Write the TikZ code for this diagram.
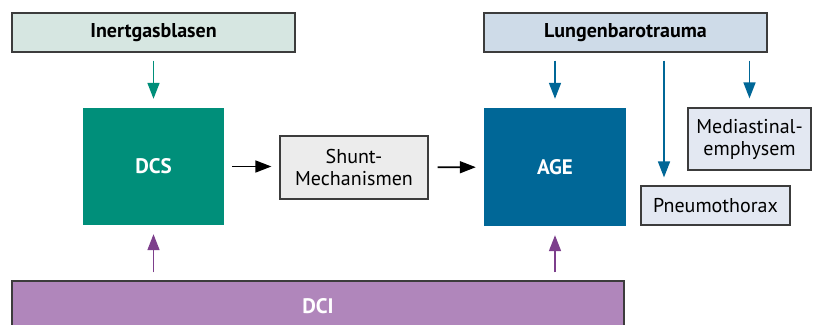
\documentclass[tikz,border=0pt]{standalone}
\usepackage{xcolor}
\usepackage{fontspec}
\setmainfont{PT Sans}
\usetikzlibrary{arrows.meta}
\definecolor{dcsgreen}{RGB}{0,143,122}
\definecolor{ageblue}{RGB}{0,103,151}
\definecolor{dcipurple}{RGB}{176,134,187}
\definecolor{arrowpurple}{RGB}{125,63,140}
\definecolor{inertfill}{RGB}{214,230,225}
\definecolor{lungfill}{RGB}{206,219,232}
\definecolor{lightbluefill}{RGB}{227,232,242}
\definecolor{shuntfill}{RGB}{236,236,236}
\definecolor{boxline}{RGB}{60,60,60}

\begin{document}
\begin{tikzpicture}[x=1pt, y=-1pt,
        label box/.style = {draw = boxline, line width = 1.2pt, inner sep = 0pt, font = \fontsize{20}{22}\selectfont, align = center},
        big box/.style = {inner sep = 0pt, text = white, font = \fontsize{21}{24}\selectfont\bfseries},
        flow/.style = {line width = 1.6pt, -{Triangle[width = 12pt, length = 16pt]}}]
        \clip (0, 0) rectangle (813, 324);
        \fill[white] (0, 0) rectangle (813, 324);

        \node(Inertgasblasen)[label box, fill = inertfill, minimum width = 283, minimum height = 39, font = \fontsize{20}{22}\selectfont\bfseries] at (153.5, 32.5) {Inertgasblasen};
        \node(Lungenbarotrauma)[label box, fill = lungfill, minimum width = 283, minimum height = 39, font = \fontsize{20}{22}\selectfont\bfseries] at (625.5, 32.5) {Lungenbarotrauma};

        \node(DCS)[big box, fill = dcsgreen, minimum width = 141, minimum height = 117] at (153.5, 166.5) {DCS};
        \node(Shunt)[label box, fill = shuntfill, minimum width = 148, minimum height = 63] at (354, 167.5) {Shunt-\\Mechanismen};
        \node(AGE)[big box, fill = ageblue, minimum width = 142, minimum height = 118] at (555, 167) {AGE};

        \node(Mediastinal)[label box, fill = lightbluefill, minimum width = 123, minimum height = 62] at (749.5, 139) {Mediastinal-\\emphysem};
        \node(Pneumothorax)[label box, fill = lightbluefill, minimum width = 149, minimum height = 39] at (715.5, 205.5) {Pneumothorax};

        \node(DCI)[big box, draw = boxline, line width = 1.2pt, fill = dcipurple, minimum width = 612, minimum height = 50] at (318, 306) {DCI};

        \coordinate(pneumo x) at (664, 0);

        \draw [flow, dcsgreen, shorten < = 8pt, shorten > = 9pt] (Inertgasblasen) -- (DCS);
        \draw [flow, ageblue, shorten < = 8pt, shorten > = 9pt] (Lungenbarotrauma.south -| AGE) -- (AGE);
        \draw [flow, ageblue, shorten < = 8pt, shorten > = 8pt] (Lungenbarotrauma.south -| pneumo x) -- (pneumo x |- Pneumothorax.north);
        \draw [flow, ageblue, shorten < = 8pt, shorten > = 9pt] (Lungenbarotrauma.south -| Mediastinal) -- (Mediastinal);

        \draw [flow, black, shorten < = 8pt, shorten > = 8pt] (DCS) -- (DCS -| Shunt.west);
        \draw [flow, black, shorten < = 9pt, shorten > = 8pt] (Shunt) -- (AGE);

        \draw [flow, arrowpurple, shorten < = 8pt, shorten > = 9pt] (DCI.north -| DCS) -- (DCS);
        \draw [flow, arrowpurple, shorten < = 8pt, shorten > = 9pt] (DCI.north -| AGE) -- (AGE);

    \end{tikzpicture}
\end{document}
